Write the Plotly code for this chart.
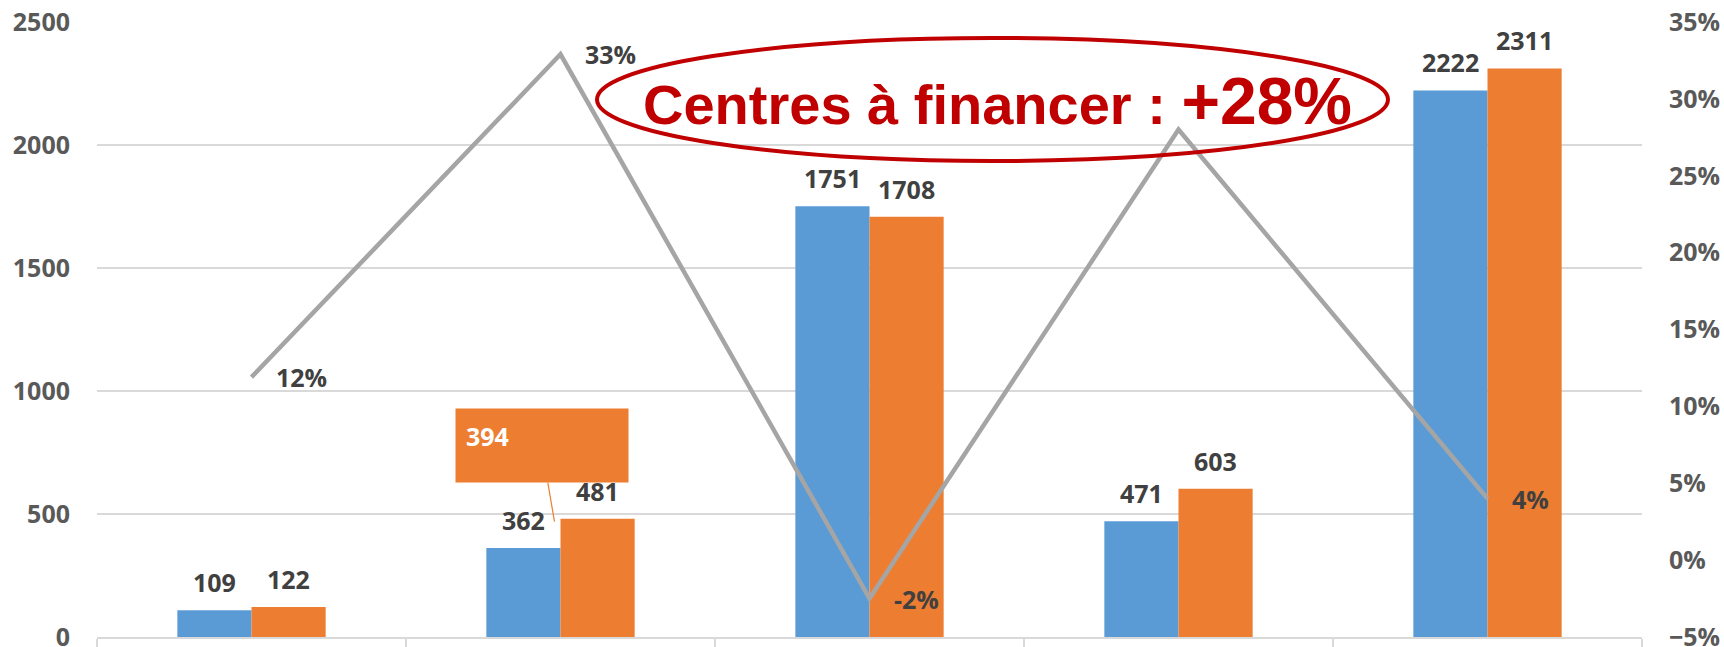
import plotly.graph_objects as go

# ---- data ----
categories = ["Catégorie 1", "Catégorie 2", "Catégorie 3", "Catégorie 4", "Catégorie 5"]
series_a = [109, 362, 1751, 471, 2222]      # blue bars
series_b = [122, 481, 1708, 603, 2311]      # orange bars
growth = [0.119, 0.329, -0.025, 0.280, 0.040]   # grey line (right axis)
growth_labels = ["12%", "33%", "-2%", "28%", "4%"]
left_ticks = [0, 500, 1000, 1500, 2000, 2500]
right_ticks = [-0.05, 0, 0.05, 0.10, 0.15, 0.20, 0.25, 0.30, 0.35]
callout_text = "394"
title_text = "Centres à financer : "
title_value = "+28%"

BLUE = "#5B9BD5"
ORANGE = "#ED7D31"
GREY = "#A5A5A5"
DARK = "#404040"
AXIS = "#595959"
GRID = "#D9D9D9"
RED = "#C00000"
FONT = "Open Sans"

W, H = 1724, 647
ML, MR, MT, MB = 97, 82, 22, 10
PW, PH = W - ML - MR, H - MT - MB


def px_to_paper_x(px):
    return (px - ML) / PW


def px_to_paper_y(py):
    return (H - MB - py) / PH


fig = go.Figure()
fig.add_trace(go.Bar(x=categories, y=series_a, marker=dict(color=BLUE, line=dict(width=0)),
                     name="A", yaxis="y"))
fig.add_trace(go.Bar(x=categories, y=series_b, marker=dict(color=ORANGE, line=dict(width=0)),
                     name="B", yaxis="y"))
fig.add_trace(go.Scatter(x=categories, y=growth, mode="lines", yaxis="y2",
                         line=dict(color=GREY, width=4.5), name="Évolution"))

annotations = []
# bar value labels
for i, c in enumerate(categories):
    for vals, shift in ((series_a, -37), (series_b, 37)):
        annotations.append(dict(x=c, y=vals[i], xref="x", yref="y", text=f"<b>{vals[i]}</b>",
                                showarrow=False, xanchor="center", yanchor="bottom",
                                xshift=shift, yshift=9,
                                font=dict(family=FONT, size=25, color=DARK)))
# line labels
for i, c in enumerate(categories):
    if i == 3:
        continue  # 28% label hidden behind title in reference
    annotations.append(dict(x=c, y=growth[i], xref="x", yref="y2", text=f"<b>{growth_labels[i]}</b>",
                            showarrow=False, xanchor="left", yanchor="middle", xshift=22,
                            font=dict(family=FONT, size=25, color=DARK)))
# orange callout box
annotations.append(dict(x=categories[1], y=series_b[1], xref="x", yref="y",
                        text=f"<b>{callout_text}</b>", showarrow=True, arrowhead=0,
                        arrowwidth=1.2, arrowcolor=ORANGE, ax=-13, ay=-76,
                        xshift=-6, yshift=-3,
                        bgcolor=ORANGE, borderpad=10, width=152, height=53,
                        align="left", valign="top",
                        font=dict(family=FONT, size=25, color="white")))
# title text in ellipse
annotations.append(dict(x=px_to_paper_x(998), y=px_to_paper_y(101), xref="paper", yref="paper",
                        text=f"<b>{title_text}<span style='font-size:66px'>{title_value}</span></b>",
                        showarrow=False, xanchor="center", yanchor="middle",
                        font=dict(family="Liberation Sans", size=56, color=RED)))

shapes = [dict(type="circle", xref="paper", yref="paper",
               x0=px_to_paper_x(597), x1=px_to_paper_x(1388),
               y0=px_to_paper_y(161), y1=px_to_paper_y(38),
               line=dict(color=RED, width=4), fillcolor="rgba(0,0,0,0)", layer="above")]

fig.update_layout(
    width=W, height=H,
    margin=dict(l=ML, r=MR, t=MT, b=MB, pad=0, autoexpand=False),
    paper_bgcolor="white", plot_bgcolor="white",
    barmode="group", bargap=0.52, bargroupgap=0,
    showlegend=False,
    font=dict(family=FONT, size=25, color=AXIS),
    xaxis=dict(type="category", showticklabels=False, tickson="boundaries",
               ticks="outside", ticklen=14, tickcolor=GRID, tickwidth=1.5,
               showline=True, linecolor=GRID, linewidth=1.5, showgrid=False),
    yaxis=dict(range=[0, 2500], tickvals=left_ticks, showgrid=True, gridcolor=GRID, gridwidth=1.5,
               zeroline=False, showline=False, ticks="", ticklabelstandoff=26,
               ticklabeloverflow="allow",
               tickfont=dict(family=FONT, size=25, color=AXIS, weight="bold")),
    yaxis2=dict(range=[-0.05, 0.35], tickvals=right_ticks, tickformat=".0%", overlaying="y",
                side="right", showgrid=False, zeroline=False, showline=False, ticks="",
                ticklabelstandoff=26, ticklabeloverflow="allow",
                tickfont=dict(family=FONT, size=25, color=AXIS, weight="bold")),
    annotations=annotations,
    shapes=shapes,
)

fig.write_html(
    "out.html",
    config={"displayModeBar": False},
    post_script="document.body.style.margin='0';document.body.style.overflow='hidden';",
)
